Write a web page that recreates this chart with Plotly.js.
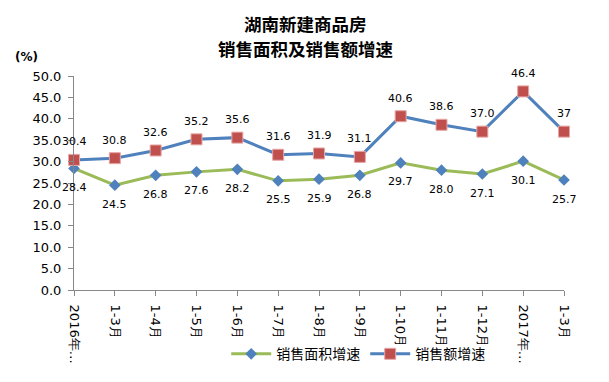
<!DOCTYPE html>
<html><head><meta charset="utf-8">
<script src="https://cdn.plot.ly/plotly-3.0.1.min.js"></script>
<style>body{margin:0;background:#fff}#c{width:609px;height:382px}</style>
</head><body><div id="c"></div>
<script>
var categories = ["2016年…","1-3月","1-4月","1-5月","1-6月","1-7月","1-8月","1-9月","1-10月","1-11月","1-12月","2017年…","1-3月 "];
var areaGrowth = [28.4,24.5,26.8,27.6,28.2,25.5,25.9,26.8,29.7,28.0,27.1,30.1,25.7];
var salesGrowth = [30.4,30.8,32.6,35.2,35.6,31.6,31.9,31.1,40.6,38.6,37.0,46.4,37];
var areaLabels = ["28.4","24.5","26.8","27.6","28.2","25.5","25.9","26.8","29.7","28.0","27.1","30.1","25.7"];
var salesLabels = ["30.4","30.8","32.6","35.2","35.6","31.6","31.9","31.1","40.6","38.6","37.0","46.4","37"];
var yTicks = [0,5,10,15,20,25,30,35,40,45,50];

var font = "DejaVu Sans, Verdana, sans-serif";
var cjk = "Noto Sans CJK SC, sans-serif";

var traces = [
  {x: categories, y: areaGrowth, name: "销售面积增速", type: "scatter", mode: "lines+markers",
   line: {color: "#9BBB59", width: 3}, marker: {symbol: "diamond", size: 9, color: "#4F81BD"}, cliponaxis: false},
  {x: categories, y: salesGrowth, name: "销售额增速", type: "scatter", mode: "lines+markers",
   line: {color: "#4F81BD", width: 3}, marker: {symbol: "square", size: 11, color: "#C0504D", line: {color: "#E6A7A5", width: 1}}, cliponaxis: false}
];

var annotations = [];
categories.forEach(function(c, i){
  annotations.push({x: c, y: areaGrowth[i], xref: "x", yref: "y", text: areaLabels[i], showarrow: false,
    yshift: -19, xanchor: "center", yanchor: "middle", font: {family: font, size: 11, color: "#000"}});
  annotations.push({x: c, y: salesGrowth[i], xref: "x", yref: "y", text: salesLabels[i], showarrow: false,
    yshift: 18, xanchor: "center", yanchor: "middle", font: {family: font, size: 11, color: "#000"}});
});
annotations.push(
  {text: "<b>湖南新建商品房</b>", xref: "paper", yref: "paper", x: 0.472, y: 1, yshift: 53, showarrow: false,
   font: {family: cjk, size: 17.5, color: "#000"}, xanchor: "center", yanchor: "middle", borderpad: 0},
  {text: "<b>销售面积及销售额增速</b>", xref: "paper", yref: "paper", x: 0.472, y: 1, yshift: 28, showarrow: false,
   font: {family: cjk, size: 17.5, color: "#000"}, xanchor: "center", yanchor: "middle", borderpad: 0},
  {text: "<b>(%)</b>", xref: "paper", yref: "paper", x: 0, xshift: -48, y: 1, yshift: 19, showarrow: false,
   font: {family: font, size: 12, color: "#000"}, xanchor: "center", yanchor: "middle"}
);

var layout = {
  width: 609, height: 382,
  margin: {l: 74, r: 45, t: 76, b: 90},
  paper_bgcolor: "#fff", plot_bgcolor: "#fff",
  showlegend: true,
  legend: {orientation: "h", x: 0.58, xanchor: "center", y: -0.30, yanchor: "middle",
           font: {family: cjk, size: 14, color: "#000"}, bgcolor: "rgba(0,0,0,0)", itemwidth: 40},
  xaxis: {type: "category", showgrid: false, zeroline: false, showline: true, linecolor: "#888", linewidth: 1,
          ticks: "outside", ticklen: 5, tickcolor: "#888", tickangle: 90, ticklabelstandoff: 6,
          tickfont: {family: font, size: 13, color: "#000"}, range: [0, 12], fixedrange: true},
  yaxis: {range: [0, 50], tickvals: yTicks, tickformat: ".1f", showgrid: false, zeroline: false,
          showline: true, linecolor: "#888", linewidth: 1, ticks: "outside", ticklen: 5, tickcolor: "#888",
          ticklabelstandoff: 4, tickfont: {family: font, size: 13, color: "#000"}},
  annotations: annotations
};
Plotly.newPlot("c", traces, layout, {displayModeBar: false, staticPlot: true});
</script></body></html>
